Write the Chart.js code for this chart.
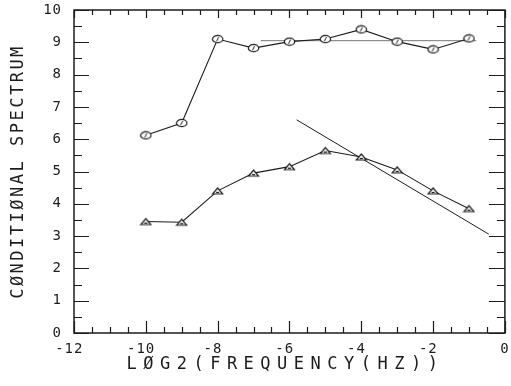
<!DOCTYPE html>
<html>
<head>
<meta charset="utf-8">
<script src="https://cdn.jsdelivr.net/npm/chart.js@4/dist/chart.umd.min.js"></script>
<style>
html,body{margin:0;padding:0;background:#fff;}
canvas{display:block;}
</style>
</head>
<body>
<canvas id="c" width="511" height="386"></canvas>
<script>
// ---- data ----
const log2Freq = [-10, -9, -8, -7, -6, -5, -4, -3, -2, -1];
const circleSpectrum = [6.12, 6.5, 9.1, 8.82, 9.02, 9.1, 9.4, 9.02, 8.78, 9.12];
const triangleSpectrum = [3.45, 3.43, 4.4, 4.95, 5.15, 5.65, 5.45, 5.05, 4.4, 3.85];
const flatLineX = [-6.8, -0.8];
const flatLineY = [9.05, 9.05];
const slopeLineX = [-5.8, -0.45];
const slopeLineY = [6.6, 3.06];
const xTickValues = [-12, -10, -8, -6, -4, -2, 0];
const yTickValues = [0, 1, 2, 3, 4, 5, 6, 7, 8, 9, 10];
const xTitle = 'LØG2(FREQUENCY(HZ))';
const yTitle = 'CØNDITIØNAL SPECTRUM';

const ink = '#1c1c1c';
const mono = '"DejaVu Sans Mono", "Liberation Mono", monospace';

function pts(xs, ys) { return xs.map((x, i) => ({x: x, y: ys[i]})); }

// marker images
function circleMarker() {
  const c = document.createElement('canvas');
  c.width = 13; c.height = 10;
  const g = c.getContext('2d');
  g.fillStyle = '#fff';
  g.strokeStyle = ink; g.lineWidth = 1.2;
  g.beginPath(); g.ellipse(6.5, 5, 5.2, 3.6, 0, 0, Math.PI * 2); g.fill(); g.stroke();
  g.lineWidth = 1;
  g.beginPath(); g.moveTo(5.5, 7); g.lineTo(7.5, 3); g.stroke();
  return c;
}
function triangleMarker() {
  const c = document.createElement('canvas');
  c.width = 13; c.height = 10;
  const g = c.getContext('2d');
  g.fillStyle = '#fff';
  g.strokeStyle = ink; g.lineWidth = 1.2;
  g.beginPath(); g.moveTo(1.5, 8); g.lineTo(11.5, 8); g.lineTo(6.5, 2); g.closePath(); g.fill(); g.stroke();
  g.beginPath(); g.moveTo(5, 6.5); g.lineTo(8, 6.5); g.stroke();
  return c;
}

function noPad(s) { s.paddingTop = 0; s.paddingBottom = 0; s.paddingLeft = 0; s.paddingRight = 0; }

const framePlugin = {
  id: 'frame',
  beforeDraw(chart) {
    chart.ctx.letterSpacing = '1px';
  },
  afterDraw(chart) {
    const {ctx, chartArea: a, scales: {x, y}} = chart;
    ctx.save();
    ctx.strokeStyle = ink;
    ctx.lineWidth = 1.5;
    ctx.strokeRect(a.left, a.top, a.right - a.left, a.bottom - a.top);
    ctx.lineWidth = 1.2;
    ctx.beginPath();
    for (let v = x.min; v <= x.max + 1e-9; v += 0.5) {
      const px = Math.round(x.getPixelForValue(v)) + 0.5;
      const major = Math.abs(v % 2) < 1e-9;
      ctx.moveTo(px, a.bottom); ctx.lineTo(px, a.bottom - (major ? 12 : 6));
      ctx.moveTo(px, a.top); ctx.lineTo(px, a.top + (major ? 8 : 5));
    }
    for (let v = y.min; v <= y.max + 1e-9; v += 0.5) {
      const py = Math.round(y.getPixelForValue(v)) + 0.5;
      const major = Math.abs(v % 1) < 1e-9;
      ctx.moveTo(a.left, py); ctx.lineTo(a.left + (major ? 15 : 8), py);
      ctx.moveTo(a.right, py); ctx.lineTo(a.right - (major ? 16 : 8), py);
    }
    ctx.stroke();

    ctx.fillStyle = ink;
    ctx.textAlign = 'center';
    ctx.textBaseline = 'middle';
    // y title
    ctx.save();
    ctx.font = '17px ' + mono;
    ctx.letterSpacing = '2.5px';
    ctx.translate(19, (a.top + a.bottom) / 2);
    ctx.rotate(-Math.PI / 2);
    ctx.fillText(yTitle, 0, 0);
    ctx.restore();
    // x title
    ctx.save();
    ctx.font = '17px ' + mono;
    ctx.letterSpacing = '6.5px';
    ctx.fillText(xTitle, (a.left + a.right) / 2 - 4, 365);
    ctx.restore();
    ctx.restore();
  }
};

new Chart(document.getElementById('c'), {
  type: 'line',
  data: {
    datasets: [
      {
        data: pts(log2Freq, circleSpectrum),
        borderColor: ink, borderWidth: 1.1,
        pointStyle: circleMarker(), pointRadius: 5,
        tension: 0, order: 1
      },
      {
        data: pts(log2Freq, triangleSpectrum),
        borderColor: ink, borderWidth: 1.1,
        pointStyle: triangleMarker(), pointRadius: 5,
        tension: 0, order: 1
      },
      {
        data: pts(flatLineX, flatLineY),
        borderColor: '#777', borderWidth: 1,
        pointRadius: 0, order: 2
      },
      {
        data: pts(slopeLineX, slopeLineY),
        borderColor: ink, borderWidth: 1,
        pointRadius: 0, order: 2
      }
    ]
  },
  options: {
    responsive: false,
    devicePixelRatio: 1,
    animation: false,
    events: [],
    layout: {padding: {left: 0, top: 10, right: 4, bottom: 0}},
    plugins: {legend: {display: false}, tooltip: {enabled: false}},
    scales: {
      x: {
        type: 'linear', min: -12, max: 0,
        afterBuildTicks: s => { s.ticks = xTickValues.map(v => ({value: v})); },
        afterFit: s => { s.height = 53; noPad(s); },
        grid: {display: false, drawTicks: false},
        border: {display: false},
        ticks: {
          padding: 8, color: ink,
          font: {family: mono, size: 14},
          maxRotation: 0, autoSkip: false,
          callback: v => v < 0 ? '-' + Math.abs(v) + ' ' : String(v)
        }
      },
      y: {
        type: 'linear', min: 0, max: 10,
        afterBuildTicks: s => { s.ticks = yTickValues.map(v => ({value: v})); },
        afterFit: s => { s.width = 74; noPad(s); },
        grid: {display: false, drawTicks: false},
        border: {display: false},
        ticks: {
          padding: 12, color: ink,
          font: {family: mono, size: 14},
          autoSkip: false
        }
      }
    }
  },
  plugins: [framePlugin]
});
</script>
</body>
</html>
